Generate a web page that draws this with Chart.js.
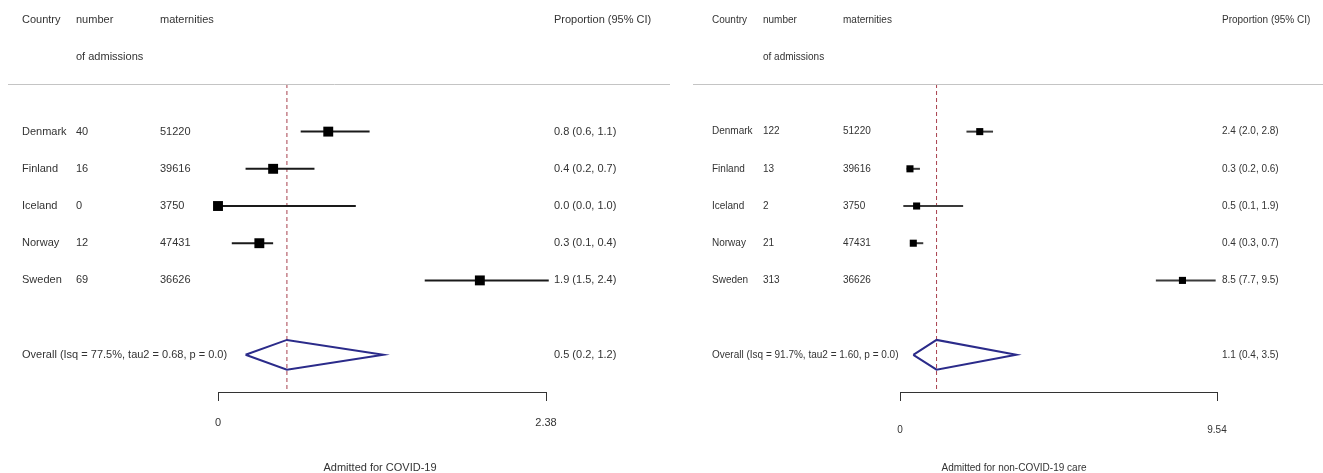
<!DOCTYPE html>
<html lang="en">
<head>
<meta charset="UTF-8">
<title>Forest plots - proportion admitted</title>
<script src="https://cdn.jsdelivr.net/npm/chart.js"></script>
<style>
    body { margin: 0; background: #fff; }
    .panel { position: absolute; top: 0; height: 473px; }
    #leftPanel { left: 0; width: 661px; }
    #rightPanel { left: 661px; width: 662px; }
</style>
</head>
<body>
<div class="panel" id="leftPanel"><canvas id="covidChart"></canvas></div>
<div class="panel" id="rightPanel"><canvas id="nonCovidChart"></canvas></div>
<script>
// ---- data ----
const countries = ['Denmark', 'Finland', 'Iceland', 'Norway', 'Sweden'];
const maternities = [51220, 39616, 3750, 47431, 36626];

const covidAdmissions = [40, 16, 0, 12, 69];
const covidProp = [0.8, 0.4, 0.0, 0.3, 1.9];
const covidLow = [0.6, 0.2, 0.0, 0.1, 1.5];
const covidHigh = [1.1, 0.7, 1.0, 0.4, 2.4];
const covidOverall = [0.5, 0.2, 1.2];      // estimate, low, high
const covidStats = ['77.5%', '0.68', '0.0']; // Isq, tau2, p
const covidAxisMax = 2.38;

const otherAdmissions = [122, 13, 2, 21, 313];
const otherProp = [2.4, 0.3, 0.5, 0.4, 8.5];
const otherLow = [2.0, 0.2, 0.1, 0.3, 7.7];
const otherHigh = [2.8, 0.6, 1.9, 0.7, 9.5];
const otherOverall = [1.1, 0.4, 3.5];
const otherStats = ['91.7%', '1.60', '0.0'];
const otherAxisMax = 9.54;

const headerTop = ['Country', 'number', 'maternities'];
const headerSecond = 'of admissions';
const headerCI = 'Proportion (95% CI)';

const FONT = '"Liberation Sans", Arial, sans-serif';
Chart.defaults.font.family = FONT;
Chart.defaults.color = '#333';

const OVERALL_ROW = 7;
const Y_MIN = -0.28, Y_MAX = 8;

function fmt(v) { return v.toFixed(1); }

// draws the table columns, the header rule and the axis caption
const tablePlugin = {
    id: 'forestTable',
    afterDraw(chart) {
        const o = chart.options.plugins.forestTable;
        const ctx = chart.ctx;
        const y = chart.scales.y;
        ctx.save();
        ctx.font = o.fontSize + 'px ' + FONT;
        ctx.fillStyle = '#333';
        ctx.textBaseline = 'middle';
        ctx.textAlign = 'left';

        // header
        const hy = y.getPixelForValue(-2);
        ctx.fillText(headerTop[0], o.cols[0], hy);
        ctx.fillText(headerTop[1], o.cols[1], hy);
        ctx.fillText(headerTop[2], o.cols[2], hy);
        ctx.fillText(headerCI, o.cols[3], hy);
        ctx.fillText(headerSecond, o.cols[1], y.getPixelForValue(-1));

        // study rows
        countries.forEach((c, i) => {
            const py = y.getPixelForValue(i + 1);
            ctx.fillText(c, o.cols[0], py);
            ctx.fillText(String(o.adm[i]), o.cols[1], py);
            ctx.fillText(String(maternities[i]), o.cols[2], py);
            ctx.fillText(fmt(o.prop[i]) + ' (' + fmt(o.low[i]) + ', ' + fmt(o.high[i]) + ')', o.cols[3], py);
        });

        // overall row
        const oy = y.getPixelForValue(OVERALL_ROW);
        ctx.fillText('Overall (Isq = ' + o.stats[0] + ', tau2 = ' + o.stats[1] + ', p = ' + o.stats[2] + ')', o.cols[0], oy);
        ctx.fillText(fmt(o.overall[0]) + ' (' + fmt(o.overall[1]) + ', ' + fmt(o.overall[2]) + ')', o.cols[3], oy);

        // caption
        ctx.textAlign = 'center';
        ctx.fillText(o.caption, o.captionX, 468);

        // rule under header
        ctx.strokeStyle = '#c4c4c4';
        ctx.lineWidth = 1;
        const ry = Math.round(chart.chartArea.top) + 0.5;
        o.rules.forEach(r => {
            ctx.beginPath();
            ctx.moveTo(r[0], ry);
            ctx.lineTo(r[1], ry);
            ctx.stroke();
        });
        ctx.restore();
    }
};

function buildChart(canvasId, p) {
    const datasets = [];
    // point estimates
    datasets.push({
        type: 'scatter',
        data: p.prop.map((v, i) => ({ x: v, y: i + 1 })),
        pointStyle: 'rect',
        pointRadius: p.square,
        backgroundColor: '#000',
        borderColor: '#000',
        borderWidth: 0,
        clip: false
    });
    // confidence intervals
    p.prop.forEach((v, i) => {
        datasets.push({
            type: 'line',
            data: [{ x: p.low[i], y: i + 1 }, { x: p.high[i], y: i + 1 }],
            borderColor: p.ciColor,
            borderWidth: 2,
            pointRadius: 0,
            clip: false
        });
    });
    // overall diamond
    const [est, lo, hi] = p.overall;
    datasets.push({
        type: 'line',
        data: [
            { x: lo, y: OVERALL_ROW }, { x: est, y: OVERALL_ROW - 0.4 },
            { x: hi, y: OVERALL_ROW }, { x: est, y: OVERALL_ROW + 0.4 },
            { x: lo, y: OVERALL_ROW }
        ],
        borderColor: '#2b2b8a',
        borderWidth: 2,
        pointRadius: 0,
        fill: false,
        tension: 0,
        clip: false
    });
    // reference line at the pooled estimate
    datasets.push({
        type: 'line',
        data: [{ x: est, y: Y_MIN }, { x: est, y: Y_MAX }],
        borderColor: '#a8404e',
        borderWidth: 1,
        borderDash: [4, 3],
        pointRadius: 0,
        clip: false
    });

    return new Chart(document.getElementById(canvasId), {
        type: 'scatter',
        data: { datasets: datasets },
        options: {
            responsive: true,
            maintainAspectRatio: false,
            animation: false,
            events: [],
            layout: { padding: { left: p.padLeft, right: p.padRight, top: 84, bottom: 0 } },
            plugins: {
                legend: { display: false },
                tooltip: { enabled: false },
                forestTable: p.table
            },
            scales: {
                x: {
                    type: 'linear',
                    position: 'bottom',
                    min: 0,
                    max: p.axisMax,
                    afterBuildTicks: s => { s.ticks = [{ value: 0 }, { value: p.axisMax }]; },
                    afterFit: s => { s.height = 473 - p.axisY; },
                    ticks: {
                        padding: p.tickPad,
                        color: '#333',
                        font: { size: p.table.fontSize },
                        maxRotation: 0,
                        callback: v => (v === 0 ? '0' : String(p.axisMax))
                    },
                    grid: { drawOnChartArea: false, drawTicks: true, tickLength: 9, color: '#333', lineWidth: 1 },
                    border: { display: true, color: '#333', width: 1 }
                },
                y: {
                    type: 'linear',
                    reverse: true,
                    min: Y_MIN,
                    max: Y_MAX,
                    display: false
                }
            }
        },
        plugins: [tablePlugin]
    });
}

buildChart('covidChart', {
    prop: covidProp, low: covidLow, high: covidHigh, overall: covidOverall,
    axisMax: covidAxisMax, padLeft: 218, padRight: 115, axisY: 392, tickPad: 15,
    square: 7, ciColor: '#1a1a1a',
    table: {
        fontSize: 11,
        cols: [22, 76, 160, 554], adm: covidAdmissions, prop: covidProp, low: covidLow, high: covidHigh,
        overall: covidOverall, stats: covidStats,
        caption: 'Admitted for COVID-19', captionX: 380,
        rules: [[8, 661]]
    }
});

buildChart('nonCovidChart', {
    prop: otherProp, low: otherLow, high: otherHigh, overall: otherOverall,
    axisMax: otherAxisMax, padLeft: 239, padRight: 106, axisY: 392, tickPad: 23,
    square: 5, ciColor: '#3a3a3a',
    table: {
        fontSize: 10,
        cols: [51, 102, 182, 561], adm: otherAdmissions, prop: otherProp, low: otherLow, high: otherHigh,
        overall: otherOverall, stats: otherStats,
        caption: 'Admitted for non-COVID-19 care', captionX: 353,
        rules: [[0, 9], [32, 662]]
    }
});
</script>
</body>
</html>
